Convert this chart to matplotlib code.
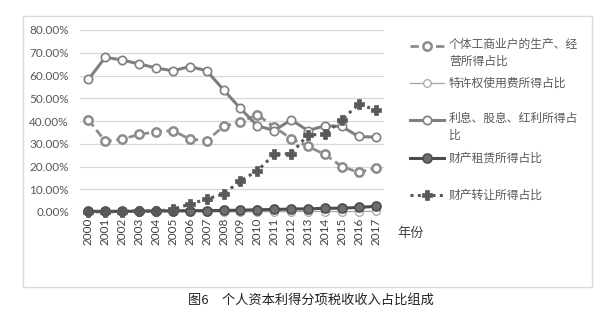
import matplotlib
matplotlib.use('Agg')
import matplotlib.pyplot as plt
from matplotlib.lines import Line2D
from matplotlib.patches import Rectangle


# -----------------------------------------------------------------------------
# data (in percent)
# -----------------------------------------------------------------------------
years = [str(y) for y in range(2000, 2018)]

business = [40.5, 31.0, 32.0, 34.1, 35.2, 35.8, 32.0, 31.4, 37.6, 39.6,
            42.8, 37.3, 32.3, 28.8, 25.3, 20.0, 17.4, 19.3]
franchise = [0.1, 0.1, 0.1, 0.1, 0.1, 0.1, 0.1, 0.1, 0.1, 0.1,
             0.1, 0.1, 0.2, 0.2, 0.2, 0.2, 0.2, 0.3]
interest = [58.3, 68.0, 66.8, 65.1, 63.3, 62.1, 63.9, 62.1, 53.7, 45.5,
            37.9, 35.8, 40.5, 35.8, 37.9, 37.6, 33.2, 32.9]
lease = [0.3, 0.3, 0.3, 0.4, 0.5, 0.5, 0.6, 0.6, 0.7, 0.8,
         1.0, 1.1, 1.3, 1.4, 1.6, 1.7, 2.0, 2.5]
transfer = [0.1, 0.1, 0.1, 0.5, 0.3, 1.3, 3.4, 5.7, 7.9, 13.7,
            18.1, 25.3, 25.7, 33.9, 34.1, 40.5, 47.4, 44.9]

labels = ['个体工商业户的生产、经\n营所得占比', '特许权使用费所得占比',
          '利息、股息、红利所得占\n比', '财产租赁所得占比', '财产转让所得占比']
yticks = [0, 10, 20, 30, 40, 50, 60, 70, 80]
caption = '图6　个人资本利得分项税收收入占比组成'

# -----------------------------------------------------------------------------
# styles
# -----------------------------------------------------------------------------
CJK = ['Noto Sans CJK SC', 'DejaVu Sans']
NUM = ['Lato', 'Noto Sans CJK SC', 'DejaVu Sans']
styles = [
    dict(color='#8c8c8c', ls=(0, (3, 1.6)), lw=2.0, marker='o', ms=6,
         mfc='white', mec='#8c8c8c', mew=1.8),
    dict(color='#a6a6a6', ls='-', lw=0.9, marker='o', ms=5.5,
         mfc='white', mec='#a6a6a6', mew=0.9),
    dict(color='#7f7f7f', ls='-', lw=2.2, marker='o', ms=6,
         mfc='white', mec='#7f7f7f', mew=1.2),
    dict(color='#4d4d4d', ls='-', lw=2.2, marker='o', ms=6.5,
         mfc='#6e6e6e', mec='#4d4d4d', mew=1.2),
    dict(color='#595959', ls=(0, (1, 1.4)), lw=2.2, marker='P', ms=6.5,
         mfc='#595959', mec='#595959', mew=0.5),
]

W, H = 610, 322
fig = plt.figure(figsize=(W / 100, H / 100), dpi=100)

# outer chart frame
fig.add_artist(Rectangle((23 / W, 1 - 287 / H), (592 - 23) / W, (287 - 16) / H,
                         transform=fig.transFigure, fill=False,
                         ec='#d9d9d9', lw=1.0))

x0, x1, ytop, ybot = 80, 384, 30, 212
ax = fig.add_axes([x0 / W, 1 - ybot / H, (x1 - x0) / W, (ybot - ytop) / H])

xs = list(range(len(years)))
for vals, st in zip([business, franchise, interest, lease, transfer], styles):
    ax.plot(xs, vals, clip_on=False, **st)

ax.set_xlim(-0.5, len(years) - 0.5)
ax.set_ylim(0, 80)
ax.set_yticks(yticks)
ax.set_yticklabels([f'{v:.2f}%' for v in yticks], family=NUM,
                   fontsize=8.5, color='#595959')
ax.set_xticks(xs)
ax.set_xticklabels(years, rotation=90, family=NUM, fontsize=8.5,
                   color='#404040')
ax.tick_params(length=0, pad=8)
ax.tick_params(axis='x', pad=4)
ax.grid(axis='y', color='#d9d9d9', lw=0.9)
ax.set_axisbelow(True)
for s in ax.spines.values():
    s.set_visible(False)
ax.axhline(0, color='#bfbfbf', lw=0.9, zorder=0.5)

fig.text(397 / W, 1 - 233 / H, '年份', family=CJK, fontsize=9.5,
         color='#404040', va='center', ha='left')

# legend, drawn by hand to follow the reference spacing
entry_y = [53, 83, 127, 158, 195]
for lab, st, yy in zip(labels, styles, entry_y):
    yf = 1 - yy / H
    if '\n' in lab:
        yf_line = 1 - (yy - 7.5) / H
    else:
        yf_line = yf
    fig.add_artist(Line2D([410 / W, 427 / W, 444 / W], [yf_line] * 3,
                          transform=fig.transFigure, markevery=[1], **st))
    fig.text(449 / W, yf, lab, family=CJK, fontsize=8.5, color='#595959',
             va='center', ha='left', linespacing=1.35)

fig.text(311 / W, 1 - 300 / H, caption, family=CJK, fontsize=9.5,
         color='#222222', ha='center', va='center')

fig.savefig('out.png', dpi=100)
